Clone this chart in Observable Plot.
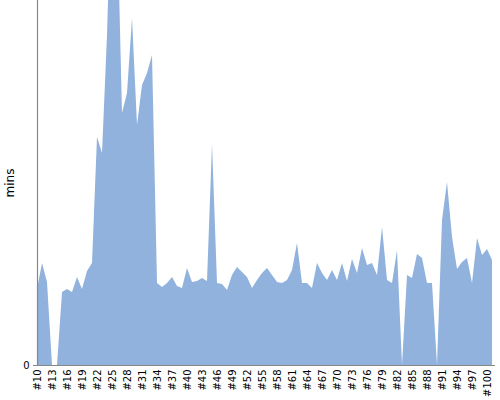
<!DOCTYPE html>
<html>
<head>
<meta charset="utf-8">
<script src="https://cdn.jsdelivr.net/npm/d3@7"></script>
<script src="https://cdn.jsdelivr.net/npm/@observablehq/plot@0.6"></script>
<style>
  html, body { margin: 0; padding: 0; background: #fff; }
  #chart svg { display: block; font-family: "DejaVu Sans", sans-serif; }
  #chart svg g[aria-label="y-axis label"] text { font-size: 12px; }
</style>
</head>
<body>
<div id="chart"></div>
<script>
// Categories #10 .. #101
const labels = d3.range(10, 102).map(i => "#" + i);
// Minutes per entry (relative scale; top of plot ≈ 365)
const mins = [
  76, 102, 83, 0, 0, 73, 76, 73, 88, 76,      // #10-#19
  94, 102, 228, 212, 330, 500, 460, 252, 272, 347, // #20-#29
  240, 280, 292, 310, 82, 78, 82, 88, 79, 77, // #30-#39
  97, 83, 84, 87, 84, 221, 82, 81, 75, 90,    // #40-#49
  98, 93, 88, 77, 85, 92, 97, 90, 83, 82,     // #50-#59
  85, 95, 122, 82, 82, 77, 102, 92, 85, 95,   // #60-#69
  85, 102, 84, 106, 92, 117, 100, 102, 90, 138, // #70-#79
  85, 82, 115, 0, 90, 87, 111, 107, 82, 82,   // #80-#89
  0, 145, 183, 128, 96, 103, 107, 82, 127, 110, // #90-#99
  116, 105                                     // #100-#101
];
const tickLabels = labels.filter((d, i) => i % 3 === 0);

const data = labels.map((l, i) => ({label: l, mins: mins[i]}));

const chart = Plot.plot({
  width: 500,
  height: 400,
  marginLeft: 33,
  marginRight: 5,
  marginTop: 0,
  marginBottom: 35,
  style: {fontFamily: "DejaVu Sans, sans-serif", fontSize: "10px", color: "#000"},
  x: {type: "point", domain: labels, padding: 0, label: null},
  y: {domain: [0, 365], label: "mins"},
  marks: [
    Plot.areaY(data, {x: "label", y: "mins", fill: "#90b2dc", clip: true}),
    Plot.ruleY([0], {stroke: "#888", strokeWidth: 1.2}),
    Plot.ruleX([labels[0]], {stroke: "#888", strokeWidth: 1.2}),
    Plot.axisX({ticks: tickLabels, tickSize: 0, tickPadding: 4, tickRotate: -90, fontSize: 10, label: null}),
    Plot.axisY({ticks: [0], tickSize: 0, tickPadding: 4, fontSize: 10, label: "mins", labelAnchor: "center", labelArrow: "none", labelOffset: 28})
  ]
});
document.getElementById("chart").appendChild(chart);
</script>
</body>
</html>
